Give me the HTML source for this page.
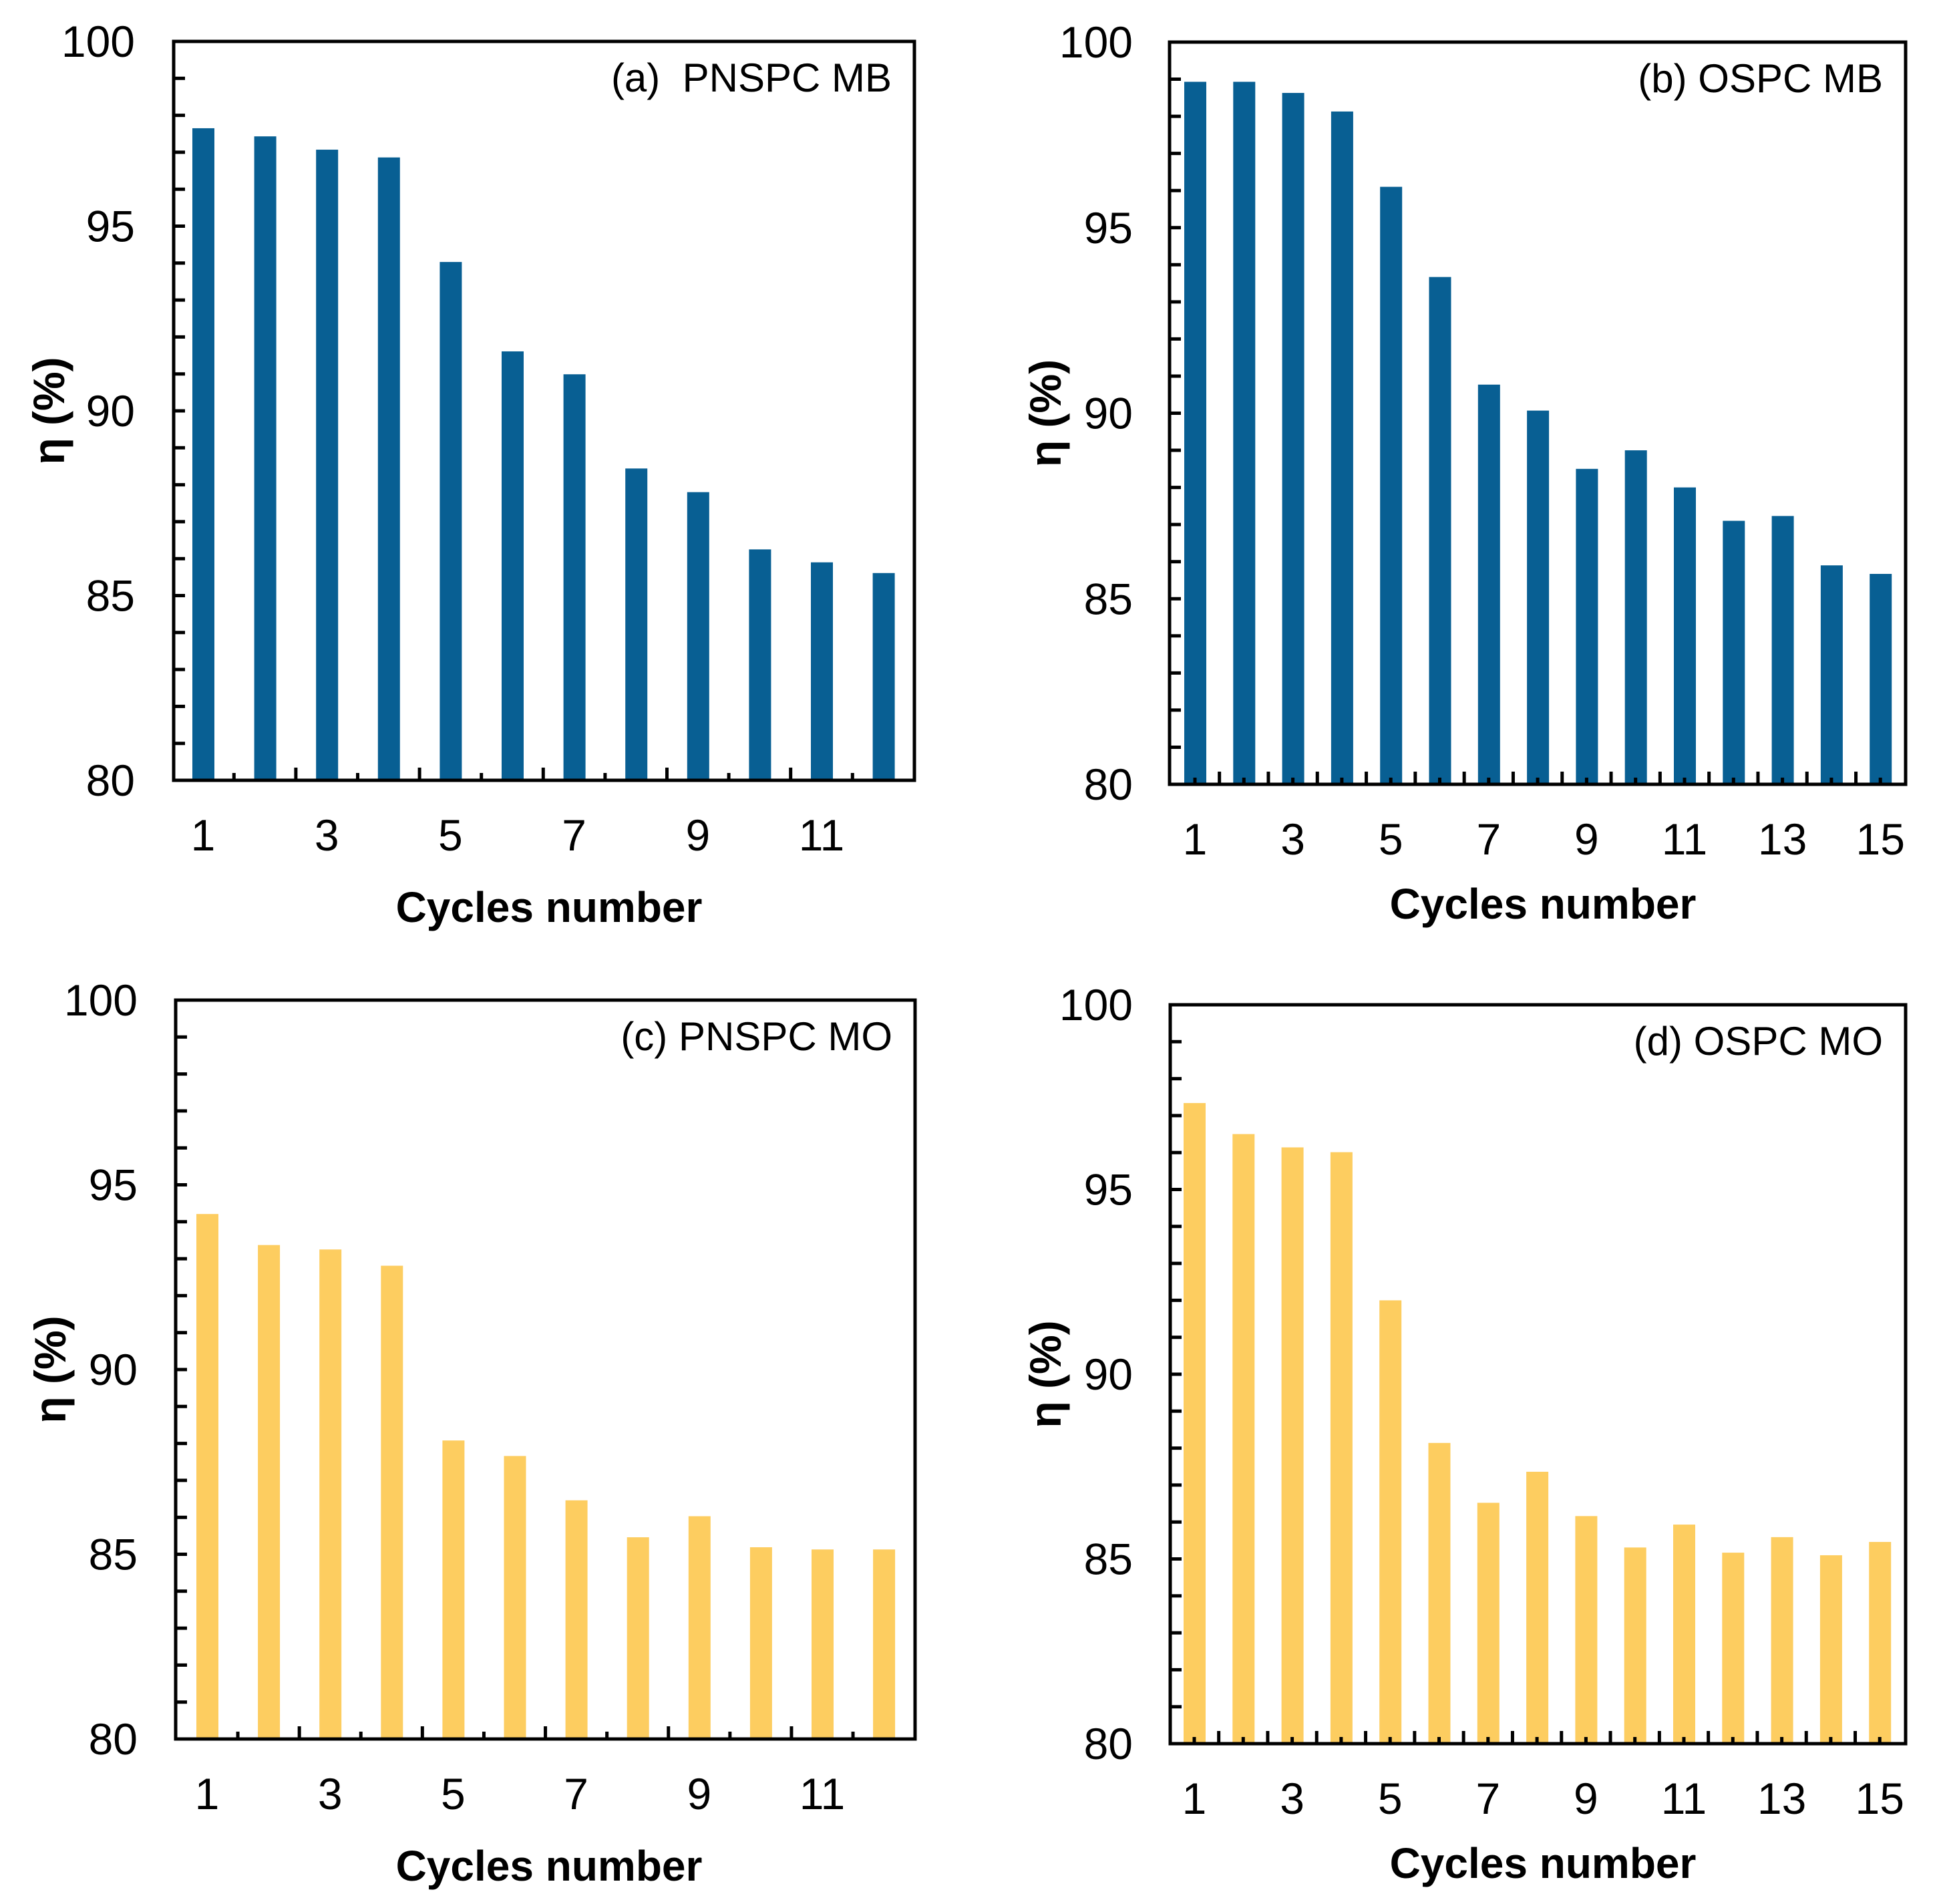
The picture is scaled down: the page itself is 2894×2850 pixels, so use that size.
<!DOCTYPE html>
<html><head><meta charset="utf-8"><style>
html,body{margin:0;padding:0;background:#fff;}
svg{display:block;font-family:"Liberation Sans",Arial,sans-serif;}
</style></head><body>
<svg id="fig" width="2894" height="2850" viewBox="0 0 2894 2850" xmlns="http://www.w3.org/2000/svg"></svg>
<script>
const cyclesA = [1,2,3,4,5,6,7,8,9,10,11,12];
const valuesA = [97.65,97.43,97.07,96.86,94.03,91.61,90.99,88.44,87.80,86.25,85.90,85.61];
const cyclesB = [1,2,3,4,5,6,7,8,9,10,11,12,13,14,15];
const valuesB = [98.93,98.93,98.63,98.13,96.1,93.67,90.77,90.07,88.5,89.0,88.0,87.1,87.23,85.9,85.67];
const cyclesC = [1,2,3,4,5,6,7,8,9,10,11,12];
const valuesC = [94.21,93.37,93.25,92.81,88.08,87.66,86.46,85.46,86.03,85.19,85.13,85.13];
const cyclesD = [1,2,3,4,5,6,7,8,9,10,11,12,13,14,15];
const valuesD = [97.34,96.50,96.14,96.01,92.0,88.14,86.52,87.36,86.16,85.31,85.93,85.17,85.59,85.10,85.46];
const yTicks = [80,85,90,95,100];
const xTicks12 = [1,3,5,7,9,11];
const xTicks15 = [1,3,5,7,9,11,13,15];
const titles = ["(a)\u00a0\u00a0PNSPC MB","(b) OSPC MB","(c) PNSPC MO","(d) OSPC MO"];

const NS="http://www.w3.org/2000/svg";
const svg=document.getElementById('fig');
function mk(tag,attrs,parent){const e=document.createElementNS(NS,tag);for(const k in attrs)e.setAttribute(k,attrs[k]);(parent||svg).appendChild(e);return e;}

const panels=[
 {key:'a',L:260,R:1369,T:62,B:1168,first:304,step:92.6,cats:cyclesA,vals:valuesA,xt:xTicks12,color:'#085f93',ylx:202,ytx:74,mid:822,tick15:false,title:titles[0],xto:212},
 {key:'b',L:1751,R:2853,T:63,B:1174,first:1789,step:73.3,cats:cyclesB,vals:valuesB,xt:xTicks15,color:'#085f93',ylx:1696,ytx:1566,mid:2310,tick15:true,title:titles[1],xto:201},
 {key:'c',L:263,R:1370,T:1497,B:2603,first:310,step:92.1,cats:cyclesC,vals:valuesC,xt:xTicks12,color:'#fdcd60',ylx:206,ytx:76,mid:822,tick15:false,title:titles[2],xto:212},
 {key:'d',L:1752,R:2853,T:1504,B:2610,first:1788,step:73.3,cats:cyclesD,vals:valuesD,xt:xTicks15,color:'#fdcd60',ylx:1696,ytx:1566,mid:2310,tick15:true,title:titles[3],xto:201}
];

panels.forEach(p=>{
 const g=mk('g',{});
 
 
 const yS=v=>p.B-(v-80)/20*(p.B-p.T);
 const xS=c=>p.first+(c-1)*p.step;
 p.cats.forEach((c,i)=>{
  const y=yS(p.vals[i]);
  const r=mk('rect',{x:xS(c)-16,y:y,width:33,height:p.B-y,fill:p.color},g);
  
  
 });
 for(let v=81;v<100;v++){
  const t=mk('line',{x1:p.L,x2:p.L+17,y1:yS(v),y2:yS(v),stroke:'#000','stroke-width':5},g);
  
  
 }
 const n=p.cats.length;
 if(p.tick15){
  for(let i=1;i<=n;i++){
   const t=mk('line',{x1:xS(i),x2:xS(i),y1:p.B,y2:p.B-10,stroke:'#000','stroke-width':5},g);
   
   
  }
  for(let i=1;i<n;i++){
   const t=mk('line',{x1:xS(i+0.5),x2:xS(i+0.5),y1:p.B,y2:p.B-19,stroke:'#000','stroke-width':5},g);
   
   
  }
 } else {
  for(let i=1;i<n;i++){
   const h=(i%2===0)?19:11;
   const t=mk('line',{x1:xS(i+0.5),x2:xS(i+0.5),y1:p.B,y2:p.B-h,stroke:'#000','stroke-width':5},g);
   
   
  }
 }
 const f=mk('rect',{x:p.L,y:p.T,width:p.R-p.L,height:p.B-p.T,fill:'none',stroke:'#000','stroke-width':5},g);
 
 
 yTicks.forEach(v=>{
  const t=mk('text',{x:p.ylx,y:yS(v)+23,'font-size':66,'text-anchor':'end',fill:'#000'},g);
  t.textContent=String(v);
  
  
 });
 p.xt.forEach(c=>{
  const t=mk('text',{x:xS(c),y:p.B+105,'font-size':66,'text-anchor':'middle',fill:'#000'},g);
  t.textContent=String(c);
  
  
 });
 const xt=mk('text',{x:p.mid,y:p.B+p.xto,'font-size':64,'font-weight':'bold','text-anchor':'middle',fill:'#000'},g);
 xt.textContent='Cycles number';
 
 
 const cy=(p.T+p.B)/2;
 const yt=mk('text',{x:p.ytx,y:cy,'font-size':66,'font-weight':'bold','text-anchor':'middle',transform:'rotate(-90 '+p.ytx+' '+cy+')',dy:22,fill:'#000'},g);
 yt.textContent='η (%)';
 
 
 const pl=mk('text',{x:p.R-34,y:p.T+75,'font-size':60,'text-anchor':'end',fill:'#000'},g);
 pl.textContent=p.title;
 
 
});
</script>
</body></html>
